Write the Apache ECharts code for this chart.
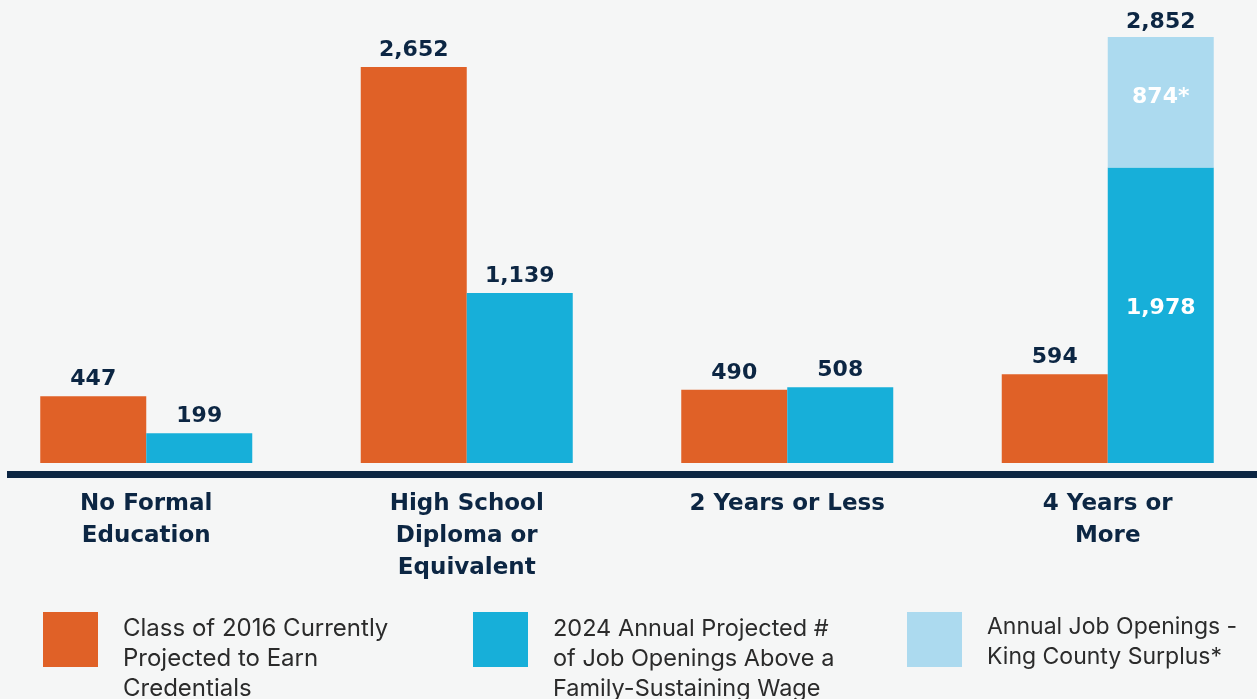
<!DOCTYPE html>
<html>
<head>
<meta charset="utf-8">
<style>
html,body{margin:0;padding:0;background:#f5f6f6;}
#c{width:1257px;height:699px;}
</style>
<script src="https://cdn.jsdelivr.net/npm/echarts@6/dist/echarts.min.js"></script>
</head>
<body>
<div id="c"></div>
<script>
const categories = ['No Formal\nEducation', 'High School\nDiploma or\nEquivalent', '2 Years or Less', '4 Years or\nMore'];
const credentials = [447, 2652, 490, 594];
const openings = [199, 1139, 508, 1978];
const surplus = [null, null, null, 874];
const seriesNames = [
  'Class of 2016 Currently\nProjected to Earn\nCredentials',
  '2024 Annual Projected #\nof Job Openings Above a\nFamily-Sustaining Wage',
  'Annual Job Openings -\nKing County Surplus*'
];

const NAVY = '#0c2643';
const ORANGE = '#e06127';
const BLUE = '#17afd9';
const LIGHT = '#acdaef';
const fmt = v => v.toLocaleString('en-US');

const totals = openings.map((v, i) => surplus[i] == null ? null : v + surplus[i]);

const valueLabel = {
  show: true, position: 'top', distance: 6,
  color: NAVY, fontFamily: 'DejaVu Sans', fontWeight: 'bold', fontSize: 22,
  formatter: p => fmt(p.value)
};

const chart = echarts.init(document.getElementById('c'));

// square swatch drawn at the top of a taller (invisible) icon box so the
// legend text starts level with the swatch top
function swatch(h) {
  return 'path://M0,0L55,0L55,55L0,55Z M0,' + h + 'L0.001,' + h + 'L0,' + h + 'Z';
}
function legendItem(left, name, lines, size) {
  const h = lines === 3 ? 93 : 60;
  return {
    orient: 'vertical', padding: 0, left: left, top: 612,
    itemWidth: 55, itemHeight: h, icon: swatch(h), selectedMode: false,
    data: [name],
    textStyle: {
      fontFamily: 'Inter', fontSize: size, lineHeight: 30, color: '#2b2b2b',
      padding: [0, 0, 0, 20]
    }
  };
}

chart.setOption({
  backgroundColor: '#f5f6f6',
  animation: false,
  grid: { left: -14, right: -11, top: 15, bottom: 236, containLabel: false, outerBoundsMode: 'none' },
  xAxis: {
    type: 'category', data: categories,
    axisLine: { show: false }, axisTick: { show: false },
    axisLabel: {
      margin: 25, color: NAVY, fontFamily: 'DejaVu Sans', fontWeight: 'bold',
      fontSize: 23, lineHeight: 32, interval: 0
    }
  },
  yAxis: { type: 'value', min: 0, max: 3000, show: false, splitLine: { show: false } },
  legend: [
    legendItem(43, seriesNames[0], 3, 24),
    legendItem(473, seriesNames[1], 3, 23.5),
    legendItem(907, seriesNames[2], 2, 23)
  ],
  graphic: [{
    type: 'rect', shape: { x: 7, y: 471, width: 1250, height: 7 },
    style: { fill: NAVY }, silent: true
  }],
  series: [
    {
      name: seriesNames[0], type: 'bar', data: credentials, barWidth: 106, barGap: '0%',
      itemStyle: { color: ORANGE }, label: valueLabel
    },
    {
      name: seriesNames[1], type: 'bar', stack: 'jobs', barWidth: 106,
      itemStyle: { color: BLUE },
      data: openings.map((v, i) => surplus[i] == null ? v : {
        value: v,
        label: { position: 'inside', offset: [0, -7], color: '#ffffff' }
      }),
      label: valueLabel
    },
    {
      name: seriesNames[2], type: 'bar', stack: 'jobs', barWidth: 106,
      itemStyle: { color: LIGHT }, data: surplus,
      label: {
        show: true, position: 'inside', offset: [0, -5], color: '#ffffff',
        fontFamily: 'DejaVu Sans', fontWeight: 'bold', fontSize: 22,
        formatter: p => p.value == null ? '' : fmt(p.value) + '*'
      }
    },
    {
      name: 'total', type: 'bar', stack: 'jobs', barWidth: 106,
      itemStyle: { color: 'transparent' },
      data: totals.map(t => t == null ? null : 0),
      label: Object.assign({}, valueLabel, {
        distance: 4,
        formatter: p => totals[p.dataIndex] == null ? '' : fmt(totals[p.dataIndex])
      })
    }
  ]
});
</script>
</body>
</html>
